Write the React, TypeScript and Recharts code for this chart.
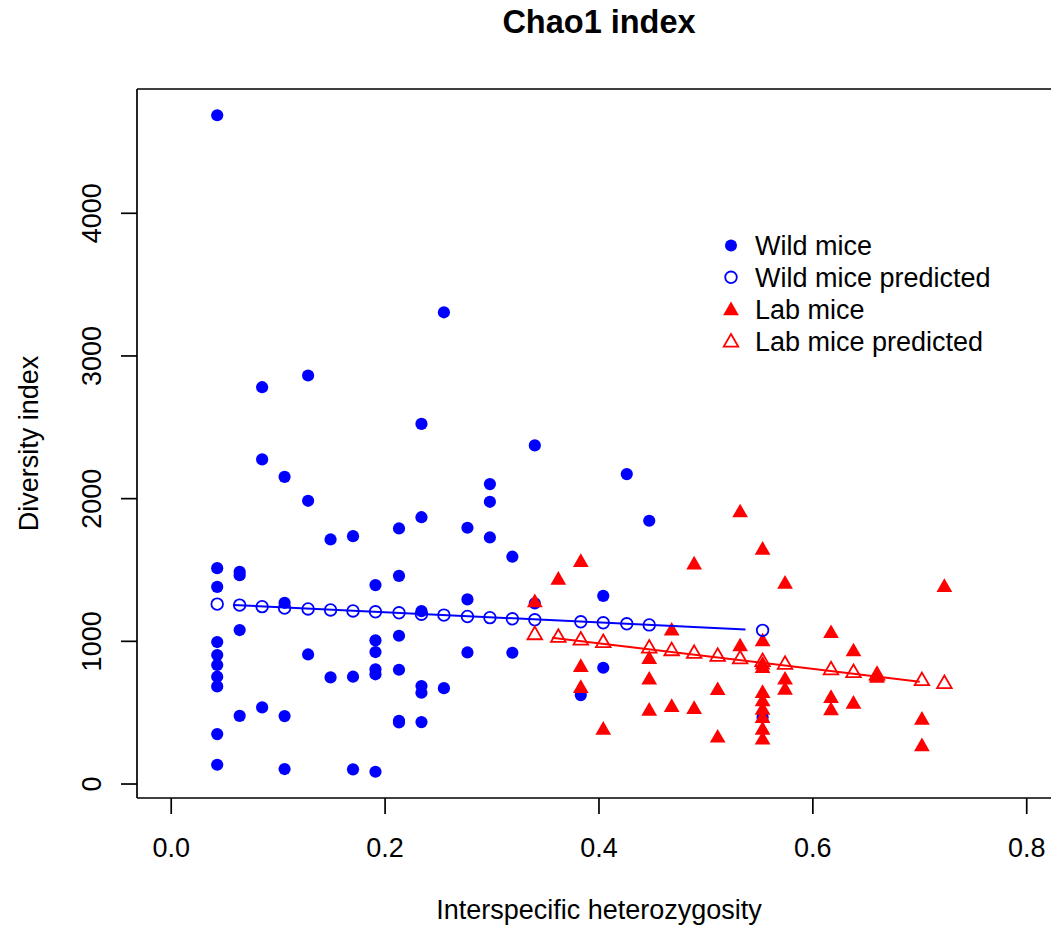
import React from "react";
import { ScatterChart, Scatter, XAxis, YAxis, ReferenceLine } from "recharts";

// axis ranges & ticks (R style: 4% padding, right side of the frame cropped)
const xDomain = [-0.032, 0.8227];
const yDomain = [-98, 4871];
const xTicks = [0, 0.2, 0.4, 0.6, 0.8];
const yTicks = [0, 1000, 2000, 3000, 4000];

// observed diversity, wild mice: [heterozygosity, chao1]
const wildMice: [number, number][] = [
  [0.043, 4687], [0.043, 1513], [0.043, 1382], [0.043, 995], [0.043, 904],
  [0.043, 834], [0.043, 752], [0.043, 684], [0.043, 350], [0.043, 135],
  [0.064, 1487], [0.064, 1464], [0.064, 1079], [0.064, 478],
  [0.085, 2781], [0.085, 2275], [0.085, 537],
  [0.106, 2153], [0.106, 1270], [0.106, 476], [0.106, 105],
  [0.128, 2863], [0.128, 1985], [0.128, 908],
  [0.149, 1714], [0.149, 747],
  [0.17, 1737], [0.17, 752], [0.17, 103],
  [0.191, 1394], [0.191, 1007], [0.191, 925], [0.191, 804], [0.191, 769], [0.191, 86],
  [0.213, 1791], [0.213, 1459], [0.213, 1039], [0.213, 801], [0.213, 443], [0.213, 432],
  [0.234, 2524], [0.234, 1870], [0.234, 1212], [0.234, 687], [0.234, 640], [0.234, 434],
  [0.255, 3306], [0.255, 672],
  [0.277, 1796], [0.277, 1294], [0.277, 922],
  [0.298, 2102], [0.298, 1978], [0.298, 1728],
  [0.319, 1593], [0.319, 920],
  [0.34, 2373], [0.34, 1266],
  [0.383, 623],
  [0.404, 1319], [0.404, 815],
  [0.426, 2172],
  [0.447, 1845],
  [0.553, 467],
];

// observed diversity, lab mice
const labMice: [number, number][] = [
  [0.34, 1271], [0.362, 1429],
  [0.383, 1553], [0.383, 817], [0.383, 670],
  [0.404, 378],
  [0.447, 873], [0.447, 729], [0.447, 511],
  [0.468, 1072], [0.468, 537],
  [0.489, 1536], [0.489, 523],
  [0.511, 655], [0.511, 322],
  [0.532, 1901], [0.532, 962],
  [0.553, 1639], [0.553, 997], [0.553, 834], [0.553, 810], [0.553, 635],
  [0.553, 577], [0.553, 518], [0.553, 460], [0.553, 378], [0.553, 308],
  [0.574, 1401], [0.574, 729], [0.574, 658],
  [0.617, 1055], [0.617, 600], [0.617, 514],
  [0.638, 927], [0.638, 560],
  [0.66, 750], [0.66, 741],
  [0.702, 448], [0.702, 262],
  [0.723, 1378],
];

// model predictions
const wildPredicted: [number, number][] = [
  [0.043, 1261], [0.064, 1254], [0.085, 1243], [0.106, 1233], [0.128, 1227],
  [0.149, 1220], [0.17, 1213], [0.191, 1207], [0.213, 1200], [0.234, 1190],
  [0.255, 1184], [0.277, 1174], [0.298, 1166], [0.319, 1158], [0.34, 1151],
  [0.383, 1137], [0.404, 1130], [0.426, 1123], [0.447, 1115], [0.553, 1077],
];

const labPredicted: [number, number][] = [
  [0.34, 1044], [0.362, 1026], [0.383, 1007], [0.404, 989], [0.447, 950],
  [0.468, 932], [0.489, 913], [0.511, 893], [0.532, 875], [0.553, 856],
  [0.574, 837], [0.617, 798], [0.638, 779], [0.66, 761], [0.702, 722],
  [0.723, 702],
];

// fitted lines
const wildFit: [number, number][] = [[0.058, 1255], [0.537, 1083]];
const labFit: [number, number][] = [[0.356, 1025], [0.7, 717]];

const toRows = (pts: [number, number][]) => pts.map(([x, y]) => ({ x, y }));

const BLUE = "#0000FF";
const RED = "#FF0000";
const FONT = "'Liberation Sans', Arial, Helvetica, sans-serif";
const FS = 27;

const tri = (cx: number, cy: number, r = 9.1) =>
  `M${cx},${cy - r}L${cx + r * 0.866},${cy + r / 2}L${cx - r * 0.866},${cy + r / 2}Z`;

const DotFilled = ({ cx, cy }: any) => <circle cx={cx} cy={cy} r={6.1} fill={BLUE} />;
const DotOpen = ({ cx, cy }: any) => (
  <circle cx={cx} cy={cy} r={5.8} fill="none" stroke={BLUE} strokeWidth={1.8} />
);
const TriFilled = ({ cx, cy }: any) => <path d={tri(cx, cy)} fill={RED} />;
const TriOpen = ({ cx, cy }: any) => (
  <path d={tri(cx, cy, 8.4)} fill="none" stroke={RED} strokeWidth={1.8} strokeLinejoin="miter" />
);
const NoShape = () => <g />;

const XTick = ({ x, y, payload }: any) => (
  <text x={x} y={y + 41} textAnchor="middle" fontSize={FS} fontFamily={FONT} fill="#000">
    {payload.value.toFixed(1)}
  </text>
);

const YTick = ({ y, payload }: any) => (
  <text
    x={101}
    y={y}
    transform={`rotate(-90, 101, ${y})`}
    textAnchor="middle"
    fontSize={FS}
    fontFamily={FONT}
    fill="#000"
  >
    {payload.value}
  </text>
);

const legendItems = [
  { label: "Wild mice", mark: "dot" },
  { label: "Wild mice predicted", mark: "ring" },
  { label: "Lab mice", mark: "tri" },
  { label: "Lab mice predicted", mark: "triOpen" },
];

export default function App() {
  const axisStroke = { stroke: "#000", strokeWidth: 1.7 };
  return (
    <div style={{ position: "absolute", left: 0, top: 0, width: 1051, height: 928, background: "#fff" }}>
      <ScatterChart width={1051} height={928} margin={{ top: 89, right: 0, bottom: 0, left: 0 }}>
        <XAxis
          type="number"
          dataKey="x"
          domain={xDomain}
          ticks={xTicks}
          allowDataOverflow
          height={130}
          tickSize={16}
          tick={<XTick />}
          axisLine={axisStroke}
          tickLine={axisStroke}
        />
        <YAxis
          type="number"
          dataKey="y"
          domain={yDomain}
          ticks={yTicks}
          allowDataOverflow
          width={137}
          tickSize={16}
          tick={<YTick />}
          axisLine={axisStroke}
          tickLine={axisStroke}
        />
        <ReferenceLine y={yDomain[1]} stroke="#000" strokeWidth={1.7} />
        <Scatter data={toRows(wildMice)} shape={<DotFilled />} isAnimationActive={false} />
        <Scatter data={toRows(labMice)} shape={<TriFilled />} isAnimationActive={false} />
        <Scatter data={toRows(wildPredicted)} shape={<DotOpen />} isAnimationActive={false} />
        <Scatter data={toRows(labPredicted)} shape={<TriOpen />} isAnimationActive={false} />
        <Scatter
          data={toRows(wildFit)}
          line={{ stroke: BLUE, strokeWidth: 2 }}
          shape={<NoShape />}
          isAnimationActive={false}
        />
        <Scatter
          data={toRows(labFit)}
          line={{ stroke: RED, strokeWidth: 2 }}
          shape={<NoShape />}
          isAnimationActive={false}
        />
      </ScatterChart>

      {/* title, axis titles and legend */}
      <svg
        width={1051}
        height={928}
        style={{ position: "absolute", left: 0, top: 0, pointerEvents: "none" }}
        fontFamily={FONT}
      >
        <text x={599} y={33} textAnchor="middle" fontSize={32.5} fontWeight="bold" fill="#000">
          Chao1 index
        </text>
        <text x={599} y={919} textAnchor="middle" fontSize={FS} fill="#000">
          Interspecific heterozygosity
        </text>
        <text
          x={38}
          y={443.5}
          transform="rotate(-90, 38, 443.5)"
          textAnchor="middle"
          fontSize={FS}
          fill="#000"
        >
          Diversity index
        </text>
        {legendItems.map((it, i) => {
          const cy = 245.5 + i * 31.8;
          const cx = 731;
          return (
            <g key={it.label}>
              {it.mark === "dot" && <circle cx={cx} cy={cy} r={6} fill={BLUE} />}
              {it.mark === "ring" && (
                <circle cx={cx} cy={cy} r={5.8} fill="none" stroke={BLUE} strokeWidth={1.8} />
              )}
              {it.mark === "tri" && <path d={tri(cx, cy + 1.5)} fill={RED} />}
              {it.mark === "triOpen" && (
                <path d={tri(cx, cy + 1.5, 8.4)} fill="none" stroke={RED} strokeWidth={1.8} />
              )}
              <text x={755} y={cy + 9.6} fontSize={FS} fill="#000">
                {it.label}
              </text>
            </g>
          );
        })}
      </svg>
    </div>
  );
}
